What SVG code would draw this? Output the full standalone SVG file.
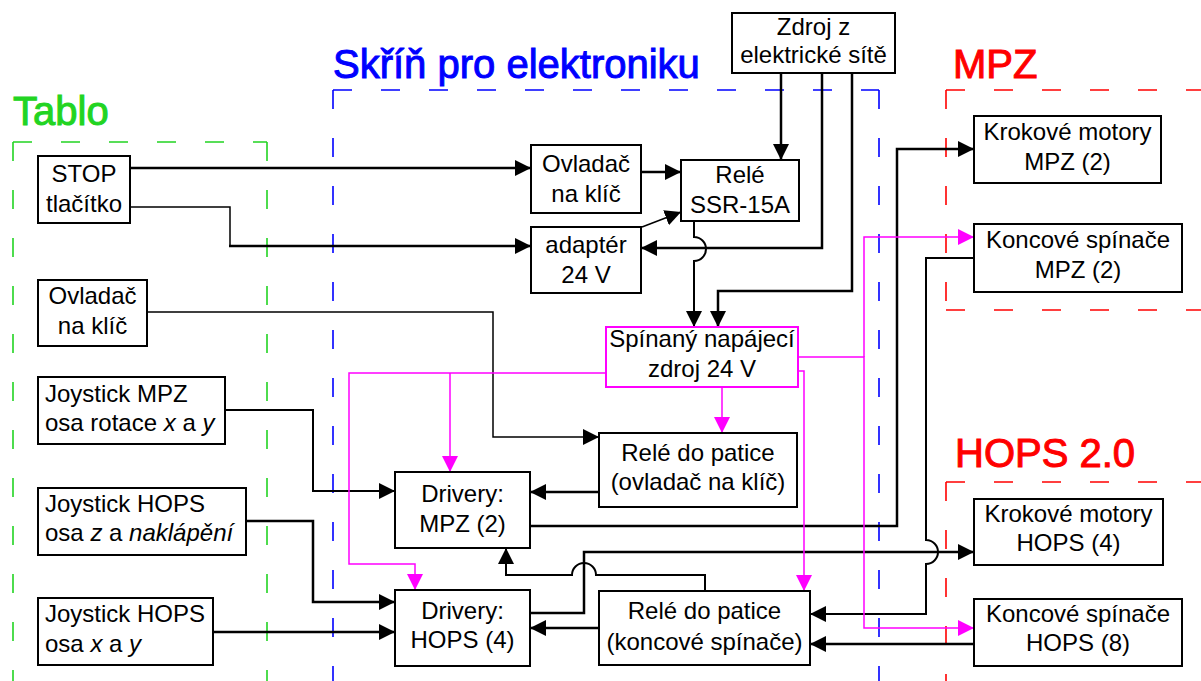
<svg xmlns="http://www.w3.org/2000/svg" width="1201" height="681" viewBox="0 0 1201 681">
<style>
text{font-family:"Liberation Sans",Arial,sans-serif;font-size:24px;fill:#000}
.c{text-anchor:middle}
.i{font-style:italic}
.big{font-size:40px}
.box{fill:#fff;stroke:#000;stroke-width:2}
.mbox{fill:#fff;stroke:#ff00ff;stroke-width:2}
.fr{fill:none;stroke-width:1.6;stroke-dasharray:19 29}
.k{fill:none;stroke:#000;stroke-width:2.5}
.k2{fill:none;stroke:#000;stroke-width:2}
.t{fill:none;stroke:#000;stroke-width:1.5}
.m{fill:none;stroke:#ff00ff;stroke-width:1.5}
.a{marker-end:url(#ah)}
.am{marker-end:url(#ahm)}
</style>
<defs>
<marker id="ah" markerUnits="userSpaceOnUse" markerWidth="16" markerHeight="16" viewBox="0 0 16 16" refX="16" refY="8" orient="auto"><path d="M0,0 L16,8 L0,16 z" fill="#000"/></marker>
<marker id="ahm" markerUnits="userSpaceOnUse" markerWidth="16" markerHeight="16" viewBox="0 0 16 16" refX="16" refY="8" orient="auto"><path d="M0,0 L16,8 L0,16 z" fill="#ff00ff"/></marker>
</defs>
<rect width="1201" height="681" fill="#fff"/>

<g id="frames">
<g id="frame-tablo" stroke="#22d422">
<path class="fr" d="M13,142 H267"/><path class="fr" d="M13,142 V681"/><path class="fr" d="M267,142 V681"/>
<text x="13" y="125" class="big" style="fill:#22d422">Tablo</text>
</g>
<g id="frame-skrin" stroke="#0000ff">
<path class="fr" d="M333,90 H879"/><path class="fr" d="M333,90 V681"/><path class="fr" d="M879,90 V681"/>
<text x="333" y="78" class="big" style="fill:#0000ff">Skříň pro elektroniku</text>
</g>
<g id="frame-mpz" stroke="#ff0000">
<path class="fr" d="M946,90 H1201"/><path class="fr" d="M946,90 V310"/><path class="fr" d="M946,310 H1201"/>
<text x="953" y="78" class="big" style="fill:#ff0000">MPZ</text>
</g>
<g id="frame-hops" stroke="#ff0000">
<path class="fr" d="M946,482 H1201"/><path class="fr" d="M946,482 V681"/>
<text x="955" y="467" class="big" style="fill:#ff0000">HOPS 2.0</text>
</g>
</g>

<g id="connectors">
<path class="k a" d="M130,168 H531"/>
<path class="t" d="M130,207 H230 V246"/>
<path class="k a" d="M229,246 H531"/>
<path class="k a" d="M641,172 H681"/>
<path class="t a" d="M642,227 L681,212"/>
<path class="k a" d="M781,73 V160"/>
<path class="k a" d="M822,73 V248 H641"/>
<path class="k a" d="M852,73 V291 H718 V327"/>
<path class="k2 a" d="M694,221 V237 A12,12 0 0 1 694,261 V327"/>
<path class="t a" d="M147,312 H493 V437 H599"/>
<path class="k2 a" d="M225,410 H313 V491 H395"/>
<path class="k a" d="M246,521 H313 V602 H395"/>
<path class="k a" d="M213,632 H395"/>
<path class="k a" d="M599,492 H530"/>
<path class="k a" d="M530,526 H897 V149 H974"/>
<path class="k a" d="M530,613 H584 V552 H974"/>
<path class="k2 a" d="M974,258 H926 V540 A12,12 0 0 1 926,564 V614 H810"/>
<path class="k2 a" d="M705,591 V575 H596 A12,12 0 0 0 572,575 H506 V548"/>
<path class="k a" d="M599,628 H530"/>
<path class="k a" d="M974,644 H810"/>
<path class="m am" d="M606,373 H349 V564 H415 V590"/>
<path class="m am" d="M450,373 V472"/>
<path class="m am" d="M722,387 V433"/>
<path class="m am" d="M864,357 V237 H974"/>
<path class="m am" d="M798,357 H864 V628 H974"/>
<path class="m am" d="M798,371 H804 V591"/>
</g>

<g id="stop"><rect class="box" x="38" y="156" width="92" height="67"/><text class="c" x="84" y="182">STOP</text><text class="c" x="84" y="212">tlačítko</text></g>
<g id="ovladac-tablo"><rect class="box" x="38" y="280" width="109" height="66"/><text class="c" x="92.5" y="304">Ovladač</text><text class="c" x="92.5" y="334">na klíč</text></g>
<g id="joystick-mpz"><rect class="box" x="38" y="377" width="187" height="67"/><text x="45" y="402">Joystick MPZ</text><text x="45" y="431">osa rotace <tspan class="i">x</tspan> a <tspan class="i">y</tspan></text></g>
<g id="joystick-hops-z"><rect class="box" x="38" y="488" width="208" height="67"/><text x="45" y="512">Joystick HOPS</text><text x="45" y="541">osa <tspan class="i">z</tspan> a <tspan class="i">naklápění</tspan></text></g>
<g id="joystick-hops-xy"><rect class="box" x="38" y="598" width="175" height="67"/><text x="45" y="622">Joystick HOPS</text><text x="45" y="652">osa <tspan class="i">x</tspan> a <tspan class="i">y</tspan></text></g>

<g id="ovladac-skrin"><rect class="box" x="531" y="145" width="110" height="68"/><text class="c" x="586" y="172">Ovladač</text><text class="c" x="586" y="202">na klíč</text></g>
<g id="adapter"><rect class="box" x="531" y="227" width="110" height="66"/><text class="c" x="586" y="253">adaptér</text><text class="c" x="586" y="283">24 V</text></g>
<g id="rele-ssr"><rect class="box" x="681" y="160" width="118" height="61"/><text class="c" x="740" y="183">Relé</text><text class="c" x="740" y="213">SSR-15A</text></g>
<g id="zdroj-sit"><rect class="box" x="732" y="13" width="163" height="60"/><text class="c" x="813.5" y="35">Zdroj z</text><text class="c" x="813.5" y="63">elektrické sítě</text></g>
<g id="spinany-zdroj"><rect class="mbox" x="606" y="327" width="192" height="60"/><text class="c" x="702" y="347">Spínaný napájecí</text><text class="c" x="702" y="377">zdroj 24 V</text></g>
<g id="rele-ovladac"><rect class="box" x="599" y="433" width="198" height="74"/><text class="c" x="698" y="461">Relé do patice</text><text class="c" x="698" y="490">(ovladač na klíč)</text></g>
<g id="drivery-mpz"><rect class="box" x="395" y="472" width="135" height="76"/><text class="c" x="462.5" y="502">Drivery:</text><text class="c" x="462.5" y="532">MPZ (2)</text></g>
<g id="drivery-hops"><rect class="box" x="395" y="590" width="135" height="76"/><text class="c" x="462.5" y="619">Drivery:</text><text class="c" x="462.5" y="648">HOPS (4)</text></g>
<g id="rele-koncove"><rect class="box" x="599" y="591" width="211" height="74"/><text class="c" x="704.5" y="619">Relé do patice</text><text class="c" x="704.5" y="650">(koncové spínače)</text></g>

<g id="krokove-mpz"><rect class="box" x="974" y="116" width="187" height="67"/><text class="c" x="1067.5" y="140">Krokové motory</text><text class="c" x="1067.5" y="170">MPZ (2)</text></g>
<g id="koncove-mpz"><rect class="box" x="974" y="224" width="208" height="68"/><text class="c" x="1078" y="248">Koncové spínače</text><text class="c" x="1078" y="278">MPZ (2)</text></g>
<g id="krokove-hops"><rect class="box" x="974" y="499" width="189" height="66"/><text class="c" x="1068.5" y="522">Krokové motory</text><text class="c" x="1068.5" y="551">HOPS (4)</text></g>
<g id="koncove-hops"><rect class="box" x="974" y="599" width="208" height="67"/><text class="c" x="1078" y="622">Koncové spínače</text><text class="c" x="1078" y="651">HOPS (8)</text></g>
</svg>
